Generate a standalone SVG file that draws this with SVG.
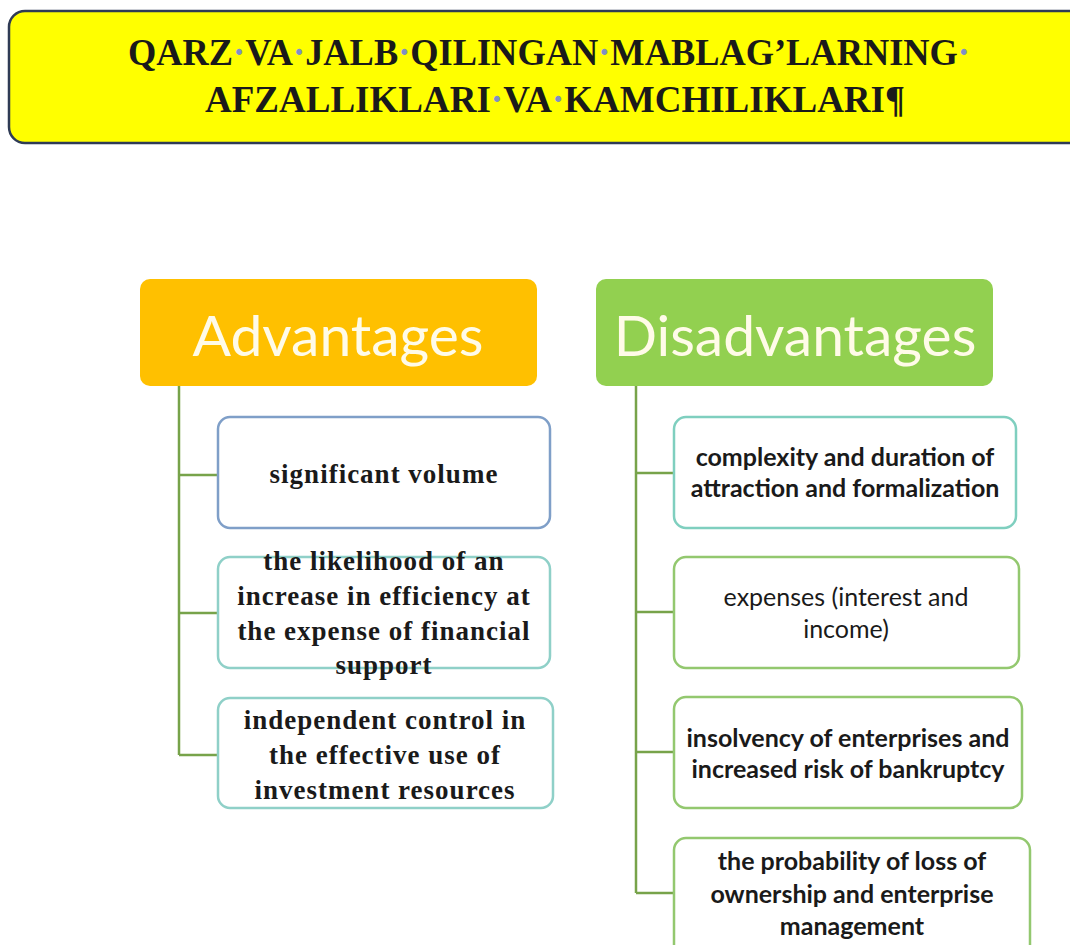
<svg xmlns="http://www.w3.org/2000/svg" width="1070" height="945" viewBox="0 0 1070 945">
<style>
.title{font-family:"Liberation Serif",serif;font-weight:bold;font-size:37px;fill:#1a1a1a}
.dot{fill:#7f8fc4}
.hdr{font-family:Lato,"Liberation Sans",sans-serif;font-size:57px;fill:#fffbe8}
.serif{font-family:"Liberation Serif",serif;font-weight:bold;font-size:27px;letter-spacing:1px;fill:#1a1a1a}
.sans{font-family:Lato,"Liberation Sans",sans-serif;font-size:25px;fill:#1a1a1a}
.b{font-weight:bold}
.conn{stroke:#77a34a;stroke-width:2.5;fill:none}
.box{fill:#fff;stroke-width:2.5}
</style>
<rect width="1070" height="945" fill="#fff"/>
<g id="title">
<rect x="9" y="11" width="1080" height="132" rx="16" fill="#ffff00" stroke="#2f3b55" stroke-width="2.5"/>
<text class="title" x="549" y="65" text-anchor="middle" textLength="842" lengthAdjust="spacingAndGlyphs">QARZ<tspan class="dot">·</tspan>VA<tspan class="dot">·</tspan>JALB<tspan class="dot">·</tspan>QILINGAN<tspan class="dot">·</tspan>MABLAG’LARNING<tspan class="dot">·</tspan></text>
<text class="title" x="555" y="112" text-anchor="middle" textLength="700" lengthAdjust="spacingAndGlyphs">AFZALLIKLARI<tspan class="dot">·</tspan>VA<tspan class="dot">·</tspan>KAMCHILIKLARI¶</text>
</g>
<g id="connectors">
<path class="conn" d="M179 386V755M179 475H218M179 613H218M179 755H218"/>
<path class="conn" d="M636 386V893M636 473H674M636 612H674M636 752H674M636 893H674"/>
</g>
<g id="advantages">
<rect x="140" y="279" width="397" height="107" rx="10" fill="#ffc000"/>
<text class="hdr" x="338" y="356" text-anchor="middle">Advantages</text>
</g>
<g id="disadvantages">
<rect x="596" y="279" width="397" height="107" rx="10" fill="#92d050"/>
<text class="hdr" x="795" y="356" text-anchor="middle">Disadvantages</text>
</g>
<g id="adv1">
<rect class="box" x="218" y="417" width="332" height="111" rx="12" stroke="#7f9fc8"/>
<text class="serif" x="384" y="483" text-anchor="middle">significant volume</text>
</g>
<g id="adv2">
<rect class="box" x="218" y="557" width="332" height="111" rx="12" stroke="#8fd0c8"/>
<text class="serif" x="384" text-anchor="middle"><tspan x="384" y="570">the likelihood of an</tspan><tspan x="384" y="605">increase in efficiency at</tspan><tspan x="384" y="640">the expense of financial</tspan><tspan x="384" y="674">support</tspan></text>
</g>
<g id="adv3">
<rect class="box" x="218" y="698" width="335" height="110" rx="12" stroke="#8fd0c8"/>
<text class="serif" x="385" text-anchor="middle"><tspan x="385" y="729">independent control in</tspan><tspan x="385" y="764">the effective use of</tspan><tspan x="385" y="799">investment resources</tspan></text>
</g>
<g id="dis1">
<rect class="box" x="674" y="417" width="342" height="111" rx="12" stroke="#7fcfbf"/>
<text class="sans b" x="845" text-anchor="middle"><tspan x="845" y="466">complexity and duration of</tspan><tspan x="845" y="497">attraction and formalization</tspan></text>
</g>
<g id="dis2">
<rect class="box" x="674" y="557" width="345" height="111" rx="12" stroke="#93c86f"/>
<text class="sans" x="846" text-anchor="middle"><tspan x="846" y="606">expenses (interest and</tspan><tspan x="846" y="638">income)</tspan></text>
</g>
<g id="dis3">
<rect class="box" x="674" y="697" width="348" height="111" rx="12" stroke="#93c86f"/>
<text class="sans b" x="848" text-anchor="middle"><tspan x="848" y="747">insolvency of enterprises and</tspan><tspan x="848" y="778">increased risk of bankruptcy</tspan></text>
</g>
<g id="dis4">
<rect class="box" x="674" y="838" width="356" height="120" rx="12" stroke="#93c86f"/>
<text class="sans b" x="852" text-anchor="middle"><tspan x="852" y="870">the probability of loss of</tspan><tspan x="852" y="903">ownership and enterprise</tspan><tspan x="852" y="935">management</tspan></text>
</g>
</svg>
